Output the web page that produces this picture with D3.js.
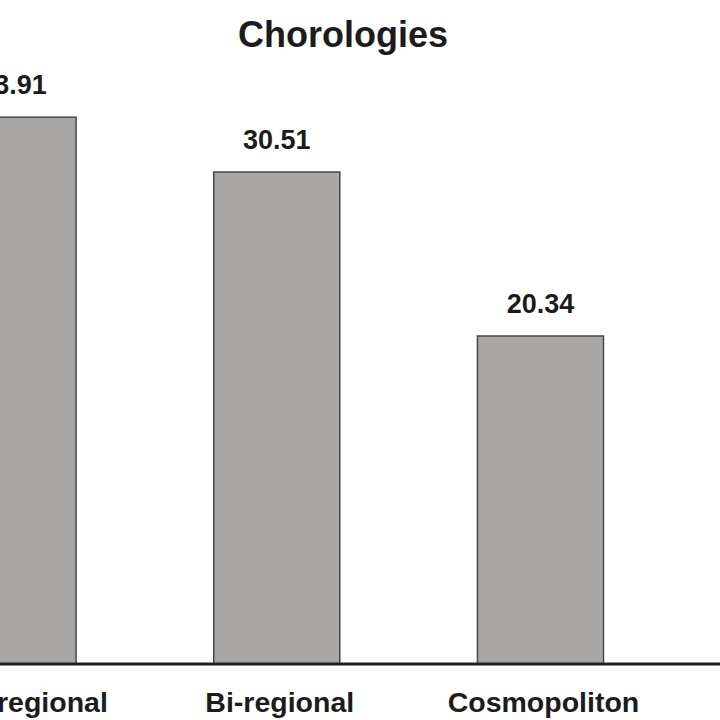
<!DOCTYPE html>
<html>
<head>
<meta charset="utf-8">
<script src="https://cdn.jsdelivr.net/npm/d3@7"></script>
<style>
  html, body { margin: 0; padding: 0; background: #fff; }
  svg { display: block; }
  text { font-family: "Liberation Sans", Arial, sans-serif; font-weight: bold; fill: #1c1c1c; }
</style>
</head>
<body>
<svg id="chart" width="720" height="720"></svg>
<script>
const title = "Chorologies";
const categories = ["Pluri-regional", "Bi-regional", "Cosmopoliton"];
const values = [33.91, 30.51, 20.34];
const valueLabels = ["33.91", "30.51", "20.34"];

const svg = d3.select("#chart");
const W = 720, H = 720;
const baseY = 664;

const x = d3.scaleBand()
  .domain(categories)
  .range([-50, 603.5])
  .paddingInner(0.522)
  .paddingOuter(0);

const y = d3.scaleLinear()
  .domain([0, 30.51])
  .range([baseY, 172]);

svg.append("rect").attr("width", W).attr("height", H).attr("fill", "#fff");

svg.append("text")
  .attr("x", 343).attr("y", 47)
  .attr("text-anchor", "middle")
  .attr("font-size", 36)
  .text(title);

svg.selectAll("rect.bar")
  .data(values)
  .join("rect")
  .attr("class", "bar")
  .attr("x", (d, i) => x(categories[i]))
  .attr("y", d => y(d))
  .attr("width", x.bandwidth())
  .attr("height", d => baseY - y(d))
  .attr("fill", "#a9a6a6")
  .attr("stroke", "#474747")
  .attr("stroke-width", 1.5);

svg.selectAll("text.val")
  .data(values)
  .join("text")
  .attr("class", "val")
  .attr("x", (d, i) => x(categories[i]) + x.bandwidth() / 2)
  .attr("y", d => y(d) - 23)
  .attr("text-anchor", "middle")
  .attr("font-size", 27)
  .text((d, i) => valueLabels[i]);

// baseline axis
const axis = d3.axisBottom(x).tickSize(0).tickPadding(0);
const gAxis = svg.append("g").attr("transform", `translate(0,${baseY})`).call(axis);
gAxis.select(".domain").remove();
gAxis.selectAll("text")
  .attr("font-size", 28.5)
  .attr("font-family", "Liberation Sans, Arial, sans-serif")
  .attr("font-weight", "bold")
  .attr("fill", "#1c1c1c")
  .attr("dx", 3)
  .attr("dy", 0)
  .attr("y", 48);

svg.append("line")
  .attr("x1", 0).attr("x2", W)
  .attr("y1", baseY).attr("y2", baseY)
  .attr("stroke", "#222")
  .attr("stroke-width", 3);
</script>
</body>
</html>
